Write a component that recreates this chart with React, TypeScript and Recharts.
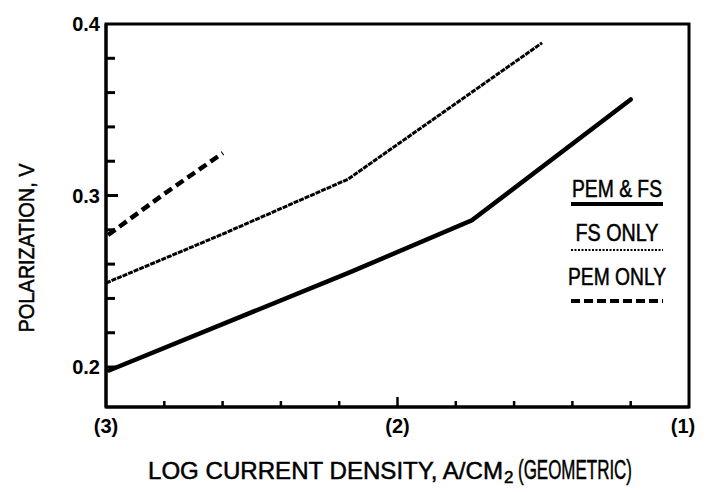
import { LineChart, Line, XAxis, YAxis, ReferenceArea, Customized } from "recharts";

// log current density (decades) vs polarization (V)
const pemFsLog = [-2.99, -2.16, -1.745, -1.2];
const pemFsV = [0.198, 0.2555, 0.2855, 0.356];

const fsOnlyLog = [-3.0, -2.6, -2.17, -1.504];
const fsOnlyV = [0.249, 0.2775, 0.3095, 0.389];

const pemOnlyLog = [-2.993, -2.8, -2.599];
const pemOnlyV = [0.277, 0.301, 0.3248];

const xTicks = [-3, -2.8, -2.6, -2.4, -2.2, -2, -1.8, -1.6, -1.4, -1.2, -1];
const xTickLabels: Record<string, string> = { "-3": "(3)", "-2": "(2)", "-1": "(1)" };
const yTicks = [0.2, 0.22, 0.24, 0.26, 0.28, 0.3, 0.32, 0.34, 0.36, 0.38, 0.4];
const yTickLabels: Record<string, string> = { "0.2": "0.2", "0.3": "0.3", "0.4": "0.4" };

const legendItems = [
  { name: "PEM & FS", textW: 90, width: 4, dash: undefined as string | undefined },
  { name: "FS ONLY", textW: 83, width: 2, dash: "2 1.5" },
  { name: "PEM ONLY", textW: 98, width: 4, dash: "9 4" },
];

const FONT = "'Liberation Sans', Arial, sans-serif";

const toPoints = (xs: number[], ys: number[]) => xs.map((x, i) => ({ x, y: ys[i] }));

const keyOf = (v: number) => String(Math.round(v * 100) / 100);

function XTick(props: any) {
  const { x, y, payload } = props;
  const label = xTickLabels[keyOf(payload.value)];
  const axisY = y - 4;
  const len = label ? 10 : 6;
  return (
    <g>
      {payload.value > -2.99 && payload.value < -1.01 && (
        <line x1={x} x2={x} y1={axisY} y2={axisY - len} stroke="#000" strokeWidth={2.5} />
      )}
      {label && (
        <text x={payload.value > -1.01 ? x - 6 : x} y={axisY + 26} textAnchor="middle" fontFamily={FONT} fontWeight="bold" fontSize={20} fill="#000">
          {label}
        </text>
      )}
    </g>
  );
}

function YTick(props: any) {
  const { x, y, payload } = props;
  const label = yTickLabels[keyOf(payload.value)];
  const axisX = x + 6;
  const len = label ? 12 : 9;
  return (
    <g>
      {payload.value < 0.399 && (
        <line x1={axisX} x2={axisX + len} y1={y} y2={y} stroke="#000" strokeWidth={3} />
      )}
      {label && (
        <text x={axisX - 6} y={y + 7} textAnchor="end" fontFamily={FONT} fontWeight="bold" fontSize={20} fill="#000">
          {label}
        </text>
      )}
    </g>
  );
}

function Decor() {
  return (
    <g fill="#000" stroke="#000" strokeWidth={0.5} fontFamily={FONT}>
      {/* axis titles */}
      <text x={148} y={479} fontSize={24} textLength={355} lengthAdjust="spacingAndGlyphs">
        LOG CURRENT DENSITY, A/CM
      </text>
      <text x={504} y={483} fontSize={17}>2</text>
      <text x={518} y={479} fontSize={27} textLength={114} lengthAdjust="spacingAndGlyphs">
        (GEOMETRIC)
      </text>
      <text
        x={34}
        y={248}
        transform="rotate(-90 34 248)"
        textAnchor="middle"
        fontSize={22}
        textLength={169}
        lengthAdjust="spacingAndGlyphs"
      >
        POLARIZATION, V
      </text>
      {/* legend */}
      {legendItems.map((it, i) => {
        const base = 197 + i * 44;
        const lineY = [204, 250, 301][i];
        return (
          <g key={it.name}>
            <text
              x={617}
              y={base}
              textAnchor="middle"
              fontSize={24}
              textLength={it.textW}
              lengthAdjust="spacingAndGlyphs"
            >
              {it.name}
            </text>
            <line x1={571} x2={663} y1={lineY} y2={lineY} stroke="#000" strokeWidth={it.width} strokeDasharray={it.dash} />
          </g>
        );
      })}
    </g>
  );
}

export default function App() {
  return (
    <div style={{ position: "absolute", left: 0, top: 0, background: "#fff" }}>
      <LineChart width={712} height={492} margin={{ top: 24, right: 23, left: 105, bottom: 84 }}>
        <XAxis
          type="number"
          dataKey="x"
          domain={[-3, -1]}
          ticks={xTicks}
          interval={0}
          tickSize={0}
          tickMargin={4}
          height={1}
          axisLine={{ stroke: "#000", strokeWidth: 3 }}
          tick={<XTick />}
          allowDataOverflow
        />
        <YAxis
          type="number"
          domain={[0.1767, 0.4]}
          ticks={yTicks}
          interval={0}
          tickSize={0}
          tickMargin={6}
          width={1}
          axisLine={{ stroke: "#000", strokeWidth: 3 }}
          tick={<YTick />}
          allowDataOverflow
        />
        <ReferenceArea x1={-3} x2={-1} y1={0.1767} y2={0.4} fill="none" stroke="#000" strokeWidth={3} />
        <Line
          data={toPoints(pemFsLog, pemFsV)}
          dataKey="y"
          stroke="#000"
          strokeWidth={4.5}
          dot={false}
          isAnimationActive={false}
          strokeLinecap="round"
        />
        <Line
          data={toPoints(fsOnlyLog, fsOnlyV)}
          dataKey="y"
          stroke="#000"
          strokeWidth={3}
          strokeDasharray="5 1"
          dot={false}
          isAnimationActive={false}
        />
        <Line
          data={toPoints(pemOnlyLog, pemOnlyV)}
          dataKey="y"
          stroke="#000"
          strokeWidth={4.5}
          strokeDasharray="9 5"
          dot={false}
          isAnimationActive={false}
        />
        <Customized component={<Decor />} />
      </LineChart>
    </div>
  );
}
